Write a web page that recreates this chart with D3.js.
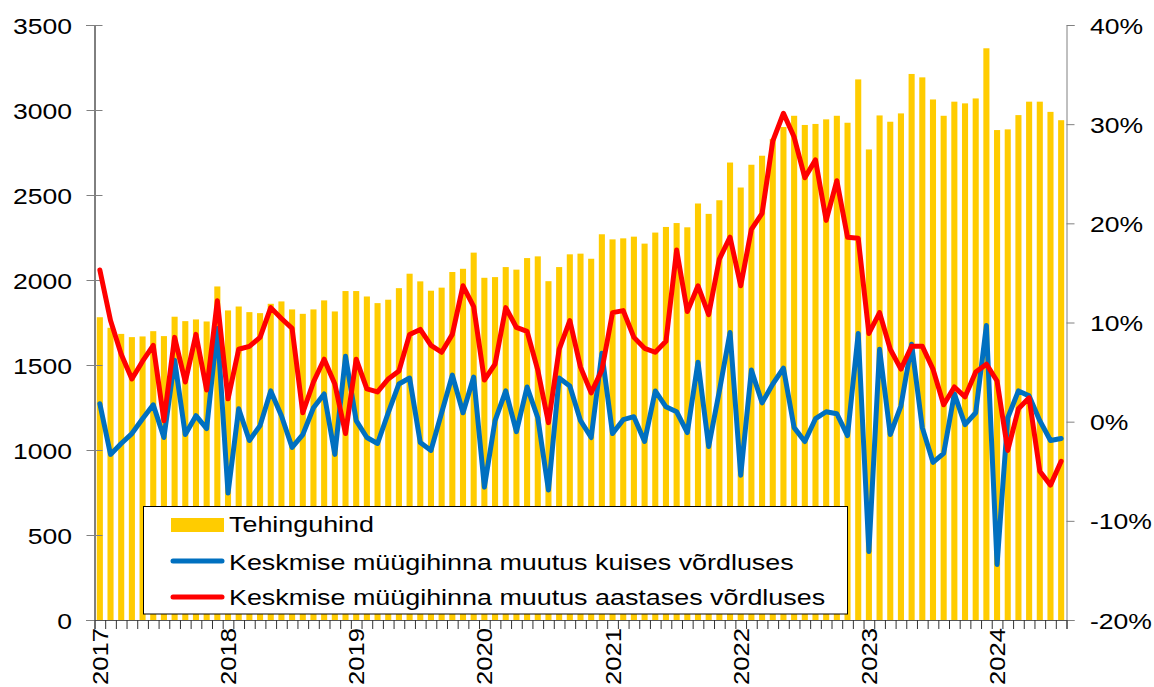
<!DOCTYPE html>
<html>
<head>
<meta charset="utf-8">
<script src="https://cdn.jsdelivr.net/npm/d3@7"></script>
<style>
  html, body { margin: 0; padding: 0; background: #fff; }
  svg { display: block; }
  text { font-family: "Liberation Sans", Arial, sans-serif; fill: #000; }
</style>
</head>
<body>
<svg id="chart" width="1154" height="687"></svg>
<script>
// ---- Data (monthly, Jan 2017 – Jul 2024) ----
const years = [2017, 2018, 2019, 2020, 2021, 2022, 2023, 2024];

const tehinguhind = [
  1781, 1719, 1683, 1664, 1668, 1699, 1670, 1784, 1758, 1768, 1756, 1962,
  1821, 1844, 1811, 1805, 1860, 1874, 1827, 1801, 1827, 1880, 1815, 1935,
  1935, 1903, 1864, 1884, 1952, 2037, 1992, 1937, 1955, 2047, 2066, 2161,
  2013, 2017, 2076, 2061, 2129, 2139, 1993, 2076, 2151, 2155, 2125, 2269,
  2239, 2245, 2255, 2214, 2279, 2312, 2335, 2310, 2450, 2389, 2469, 2691,
  2544, 2678, 2731, 2830, 2900, 2966, 2912, 2918, 2945, 2966, 2925, 3180,
  2768, 2968, 2931, 2980, 3212, 3192, 3062, 2966, 3049, 3039, 3068, 3363,
  2882, 2886, 2970, 3049, 3049, 2989, 2940
];

// monthly change, %
const kuine = [
  1.8, -3.3, -2.2, -1.2, 0.3, 1.7, -1.6, 6.2, -1.3, 0.6, -0.7, 9.4,
  -7.2, 1.3, -1.9, -0.4, 3.1, 0.6, -2.6, -1.3, 1.4, 2.8, -3.3, 6.6,
  0.1, -1.6, -2.2, 0.9, 3.8, 4.4, -2.1, -2.9, 0.9, 4.7, 0.9, 4.5,
  -6.6, 0.1, 3.1, -1.0, 3.5, 0.4, -6.9, 4.4, 3.6, 0.1, -1.6, 6.9,
  -1.2, 0.2, 0.5, -2.0, 3.1, 1.5, 1.0, -1.1, 6.0, -2.5, 3.1, 9.0,
  -5.4, 5.2, 1.9, 3.8, 5.4, -0.6, -2.0, 0.3, 1.0, 0.8, -1.4, 8.9,
  -13.1, 7.3, -1.3, 1.6, 7.8, -0.6, -4.1, -3.2, 2.8, -0.3, 0.9, 9.7,
  -14.4, 0.4, 3.1, 2.6, 0.1, -1.9, -1.7
];

// annual change, %
const aastane = [
  15.3, 10.2, 6.8, 4.3, 6.1, 7.7, 0.1, 8.5, 4.0, 8.8, 3.2, 12.2,
  2.3, 7.3, 7.6, 8.5, 11.5, 10.4, 9.4, 0.9, 4.0, 6.3, 3.8, -1.2,
  6.3, 3.3, 3.0, 4.3, 5.1, 8.8, 9.3, 7.7, 7.0, 8.8, 13.7, 11.6,
  4.2, 5.8, 11.5, 9.5, 9.1, 5.2, -0.1, 7.3, 10.2, 5.5, 2.9, 5.2,
  11.0, 11.2, 8.5, 7.4, 7.0, 8.1, 17.3, 11.1, 13.7, 10.8, 16.4, 18.6,
  13.7, 19.4, 21.0, 28.3, 31.1, 28.7, 24.6, 26.4, 20.3, 24.3, 18.6, 18.5,
  8.9, 11.0, 7.3, 5.3, 7.6, 7.6, 5.3, 1.7, 3.5, 2.5, 5.0, 5.8,
  4.1, -2.9, 1.3, 2.4, -5.0, -6.4, -4.0
];

const leftTicks = [0, 500, 1000, 1500, 2000, 2500, 3000, 3500];
const rightTicks = [-20, -10, 0, 10, 20, 30, 40];
const legendLabels = [
  "Tehinguhind",
  "Keskmise müügihinna muutus kuises võrdluses",
  "Keskmise müügihinna muutus aastases võrdluses"
];

// ---- Layout ----
const svg = d3.select("#chart");
const X0 = 94.5, X1 = 1066.5, Y0 = 620, Y1 = 25;
const FS = 22.5, SX = 1.18, SXL = 1.195;
const n = tehinguhind.length;
const idx = d3.range(n);

const x = d3.scaleBand().domain(idx).range([X0, X1]).paddingInner(0.43).paddingOuter(0.215);
const xLin = d3.scaleLinear().domain([0, n]).range([X0, X1]);
const yL = d3.scaleLinear().domain([0, 3500]).range([Y0, Y1]);
const yR = d3.scaleLinear().domain([-20, 40]).range([Y0, Y1]);
const cx = i => x(i) + x.bandwidth() / 2;

// bars
svg.append("g").selectAll("rect").data(idx).join("rect")
  .attr("x", i => x(i))
  .attr("width", x.bandwidth())
  .attr("y", i => yL(tehinguhind[i]))
  .attr("height", i => yL(0) - yL(tehinguhind[i]))
  .attr("fill", "#FFCC00");

// left axis
const gL = svg.append("g").attr("transform", `translate(${X0},0)`)
  .call(d3.axisLeft(yL).tickValues(leftTicks).tickSizeOuter(0).tickSize(8).tickFormat(d3.format("d")));
gL.select(".domain").attr("stroke", "#000");
gL.selectAll(".tick line").attr("stroke", "#808080").attr("x1", 8).attr("x2", -8);
gL.selectAll(".tick text")
  .attr("x", 0).attr("dy", null).attr("y", 0)
  .attr("transform", `translate(-22.5,8) scale(${SX},1)`)
  .style("font-size", FS + "px").style("font-family", "'Liberation Sans', Arial, sans-serif").attr("fill", "#000");

// right axis
const gR = svg.append("g").attr("transform", `translate(${X1},0)`)
  .call(d3.axisRight(yR).tickValues(rightTicks).tickSizeOuter(0).tickSize(8).tickFormat(d => d + "%"));
gR.select(".domain").attr("stroke", "#808080");
gR.selectAll(".tick line").attr("stroke", "#808080");
gR.selectAll(".tick text")
  .attr("x", 0).attr("dy", null).attr("y", 0)
  .attr("transform", `translate(23.5,8) scale(${SX},1)`)
  .style("font-size", FS + "px").style("font-family", "'Liberation Sans', Arial, sans-serif").attr("fill", "#000");

// bottom axis: month ticks
const gB = svg.append("g").attr("transform", `translate(0,${Y0})`)
  .call(d3.axisBottom(xLin).tickValues(d3.range(n + 1)).tickSizeOuter(0).tickSize(9).tickFormat(""));
gB.select(".domain").attr("stroke", "#555");
gB.selectAll(".tick line").attr("stroke", "#333");

// year labels
const jan = years.map((y, k) => k * 12);
const gY = svg.append("g").attr("transform", `translate(0,${Y0})`)
  .call(d3.axisBottom(x).tickValues(jan).tickSize(0).tickFormat(i => years[i / 12]));
gY.select(".domain").remove();
gY.selectAll(".tick text")
  .attr("x", 0).attr("y", 0).attr("dy", "0.36em")
  .attr("text-anchor", "end")
  .attr("transform", `translate(0,8) rotate(-90) scale(1.14,1)`)
  .style("font-size", FS + "px").style("font-family", "'Liberation Sans', Arial, sans-serif").attr("fill", "#000");

// lines
const lineKuine = d3.line().x(i => cx(i)).y(i => yR(kuine[i]));
const lineAastane = d3.line().x(i => cx(i)).y(i => yR(aastane[i]));
svg.append("path").attr("d", lineKuine(idx))
  .attr("fill", "none").attr("stroke", "#0070C0").attr("stroke-width", 5)
  .attr("stroke-linejoin", "round").attr("stroke-linecap", "round");
svg.append("path").attr("d", lineAastane(idx))
  .attr("fill", "none").attr("stroke", "#FF0000").attr("stroke-width", 5)
  .attr("stroke-linejoin", "round").attr("stroke-linecap", "round");

// legend
const lg = svg.append("g");
lg.append("rect").attr("x", 143.5).attr("y", 506.5).attr("width", 704).attr("height", 107.5)
  .attr("fill", "#fff").attr("stroke", "#000").attr("stroke-width", 1);
lg.append("rect").attr("x", 171).attr("y", 518).attr("width", 53).attr("height", 14).attr("fill", "#FFCC00");
lg.append("line").attr("x1", 173).attr("x2", 222).attr("y1", 561).attr("y2", 561)
  .attr("stroke", "#0070C0").attr("stroke-width", 5).attr("stroke-linecap", "round");
lg.append("line").attr("x1", 173).attr("x2", 222).attr("y1", 597).attr("y2", 597)
  .attr("stroke", "#FF0000").attr("stroke-width", 5).attr("stroke-linecap", "round");
const baselines = [532, 569.5, 605];
legendLabels.forEach((t, k) => {
  lg.append("text").text(t)
    .attr("transform", `translate(229,${baselines[k]}) scale(${SXL},1)`)
    .style("font-size", FS + "px");
});
</script>
</body>
</html>
